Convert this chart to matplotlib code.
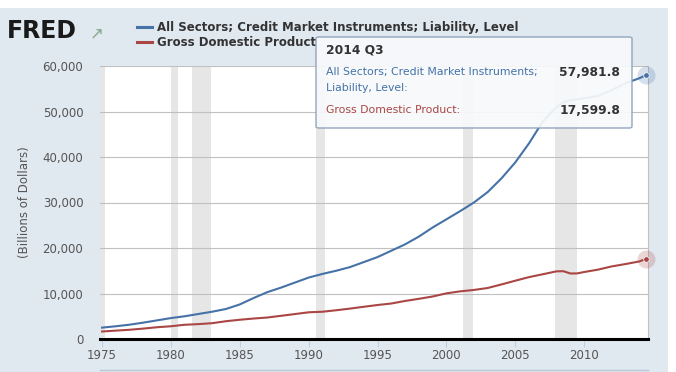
import numpy as np
import matplotlib.pyplot as plt
from matplotlib.patches import Rectangle, FancyBboxPatch
from matplotlib.ticker import FuncFormatter

# dates in decimal years (annual points, a few extra around 2008-09)
dates = [1975, 1976, 1977, 1978, 1979, 1980, 1981, 1982, 1983, 1984,
         1985, 1986, 1987, 1988, 1989, 1990, 1991, 1992, 1993, 1994,
         1995, 1996, 1997, 1998, 1999, 2000, 2001, 2002, 2003, 2004,
         2005, 2006, 2007, 2008, 2008.5, 2009, 2009.5, 2010, 2011, 2012,
         2013, 2014, 2014.5]
credit = [2500, 2800, 3150, 3600, 4100, 4600, 5000, 5500, 6000, 6600,
          7600, 9000, 10300, 11300, 12400, 13500, 14300, 15000, 15800, 16900,
          18000, 19400, 20800, 22500, 24500, 26300, 28100, 30000, 32300, 35300,
          38800, 43000, 47800, 51000, 52000, 52500, 52700, 52900, 53400, 54700,
          56200, 57300, 57981.8]
gdp = [1650, 1840, 2030, 2290, 2590, 2800, 3130, 3270, 3480, 3910,
       4230, 4500, 4720, 5100, 5480, 5870, 5990, 6320, 6680, 7080,
       7470, 7800, 8360, 8830, 9340, 10030, 10470, 10780, 11210, 11990,
       12810, 13600, 14230, 14870, 14900, 14400, 14420, 14720, 15240, 15950,
       16470, 17040, 17599.8]
recessions = [(1974.85, 1975.2), (1980.0, 1980.5), (1981.5, 1982.9),
              (1990.5, 1991.2), (2001.2, 2001.9), (2007.9, 2009.5)]
xticks = [1975, 1980, 1985, 1990, 1995, 2000, 2005, 2010]
yticks = [0, 10000, 20000, 30000, 40000, 50000, 60000]

name_credit = "All Sectors; Credit Market Instruments; Liability, Level"
name_gdp = "Gross Domestic Product"
blue = "#4572a7"
red = "#aa4643"
W, H = 676, 372

fig = plt.figure(figsize=(W / 100, H / 100), dpi=100)
fig.patch.set_facecolor("white")
# light blue panel behind everything
fig.patches.append(Rectangle((0, 0), 668 / W, 1 - 8 / H, transform=fig.transFigure,
                             facecolor="#e0e8f0", edgecolor="none", zorder=-10))

ax = fig.add_axes([100 / W, 1 - 339 / H, 548 / W, 273 / H])
ax.set_facecolor("white")
ax.set_xlim(1974.85, 2014.64)
ax.set_ylim(0, 60000)

for a, b in recessions:
    ax.axvspan(a, b, color="#e6e6e6", lw=0, zorder=0)

ax.plot(dates, credit, color=blue, lw=1.5, zorder=3)
ax.plot(dates, gdp, color=red, lw=1.5, zorder=3)
# hover markers on last point
for s, c in ((credit, blue), (gdp, red)):
    ax.plot(dates[-1], s[-1], "o", ms=13, color=c, alpha=0.22, mec="none", zorder=4, clip_on=False)
    ax.plot(dates[-1], s[-1], "o", ms=4, color=c, mec="white", mew=0.5, zorder=5, clip_on=False)

ax.set_yticks(yticks)
ax.yaxis.set_major_formatter(FuncFormatter(lambda v, p: f"{int(v):,}"))
ax.set_xticks(xticks)
ax.grid(axis="y", color="#c0c0c0", lw=0.8, zorder=1)
ax.set_axisbelow(True)
for sp in ("top", "left"):
    ax.spines[sp].set_visible(False)
ax.spines["right"].set_color("#c0c0c0")
ax.spines["right"].set_linewidth(0.8)
ax.spines["bottom"].set_color("black")
ax.spines["bottom"].set_linewidth(2.2)
ax.tick_params(axis="y", length=0, pad=12, labelsize=8.5, labelcolor="#555555")
ax.tick_params(axis="x", length=6, width=0.8, color="#c0d0e0", pad=1, labelsize=8.5,
               labelcolor="#555555")
ax.set_ylabel("(Billions of Dollars)", fontsize=8.5, color="#555555", labelpad=8)

# FRED logo and legend
fig.text(7 / W, 1 - 31 / H, "FRED", fontsize=17, fontweight="heavy", color="#1a1a1a",
         va="center", ha="left")
fig.text(90 / W, 1 - 33 / H, "\u2197", fontsize=12, color="#8aa88a", va="center", ha="left")
for i, (nm, c) in enumerate(((name_credit, blue), (name_gdp, red))):
    yy = 1 - (27 + 15 * i) / H
    fig.add_artist(plt.Line2D([137 / W, 152 / W], [yy, yy], color=c, lw=2.2,
                              transform=fig.transFigure))
    fig.text(157 / W, yy, nm, fontsize=8.45, fontweight="bold", color="#333333",
             va="center", ha="left")

# tooltip
tip = FancyBboxPatch((316 / W, 1 - 128 / H), 316 / W, 91 / H, boxstyle="round,pad=0,rounding_size=0.004",
                     transform=fig.transFigure, facecolor="#f7f9fb", edgecolor="#8aa0b8",
                     lw=1.0, alpha=0.93, zorder=10)
fig.patches.append(tip)
fig.text(326 / W, 1 - 50 / H, "2014 Q3", fontsize=8.8, fontweight="bold", color="#333333",
         va="center", zorder=11)
fig.text(326 / W, 1 - 72 / H, "All Sectors; Credit Market Instruments;", fontsize=7.8,
         color=blue, va="center", zorder=11)
fig.text(326 / W, 1 - 88 / H, "Liability, Level:", fontsize=7.8, color=blue,
         va="center", zorder=11)
fig.text(620 / W, 1 - 72 / H, f"{credit[-1]:,.1f}", fontsize=8.8, fontweight="bold",
         color="#333333", va="center", ha="right", zorder=11)
fig.text(326 / W, 1 - 110 / H, name_gdp + ":", fontsize=7.8, color=red,
         va="center", zorder=11)
fig.text(620 / W, 1 - 110 / H, f"{gdp[-1]:,.1f}", fontsize=8.8, fontweight="bold",
         color="#333333", va="center", ha="right", zorder=11)

# navigator line at bottom
fig.add_artist(plt.Line2D([100 / W, 648 / W], [1 - 369.5 / H] * 2, color="#b8c8d8", lw=1,
                          transform=fig.transFigure))

fig.savefig("out.png", dpi=100)
